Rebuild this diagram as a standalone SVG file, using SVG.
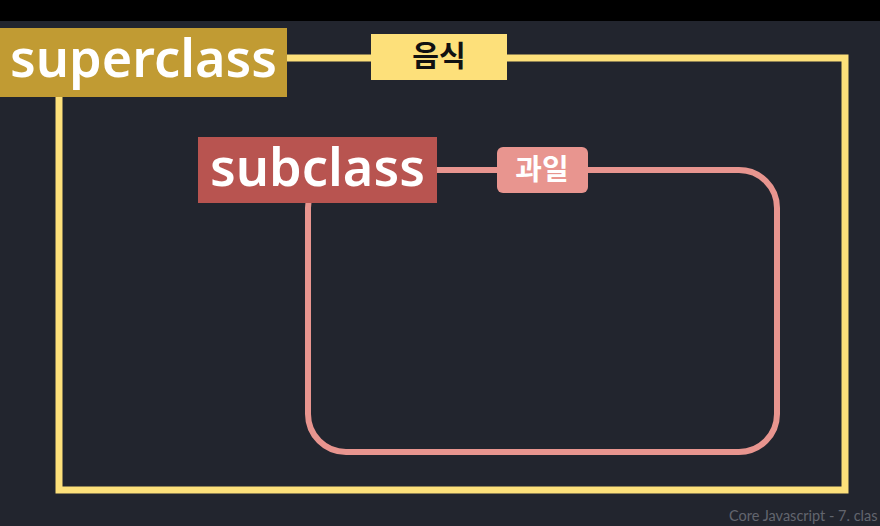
<svg xmlns="http://www.w3.org/2000/svg" width="880" height="526" viewBox="0 0 880 526">
<style>
.big{font-family:"Noto Sans","Liberation Sans",sans-serif;font-size:52px;fill:#ffffff;font-weight:600}
.ko{font-family:"Noto Sans CJK KR",sans-serif;font-weight:bold;font-size:29px;text-anchor:middle}
.foot{font-family:Lato,"Noto Sans",sans-serif;font-size:14.5px;fill:#62656e}
</style>
<rect x="0" y="0" width="880" height="526" fill="#22252e"/>
<rect x="0" y="0" width="880" height="21" fill="#000"/>
<g id="connectors">
<rect x="59" y="58" width="786" height="432" fill="none" stroke="#fde07a" stroke-width="7"/>
<rect x="308" y="170" width="469" height="282" rx="38" ry="38" fill="none" stroke="#e8958f" stroke-width="6"/>
</g>
<g id="superclass">
<rect x="0" y="28" width="287" height="69" fill="#c19b33"/>
<text class="big" x="10" y="77" textLength="267" lengthAdjust="spacingAndGlyphs">superclass</text>
</g>
<g id="food">
<rect x="371" y="34" width="136" height="46" fill="#fde07a"/>
<text class="ko" x="439" y="67" fill="#111">음식</text>
</g>
<g id="subclass">
<rect x="198" y="137" width="239" height="66" fill="#b85450"/>
<text class="big" x="210" y="186" textLength="215" lengthAdjust="spacingAndGlyphs">subclass</text>
</g>
<g id="fruit">
<rect x="497" y="147" width="91" height="46" rx="6" ry="6" fill="#e8958f"/>
<text class="ko" x="542" y="180" fill="#ffffff">과일</text>
</g>
<text class="foot" x="729" y="521">Core Javascript - 7. clas</text>
</svg>
